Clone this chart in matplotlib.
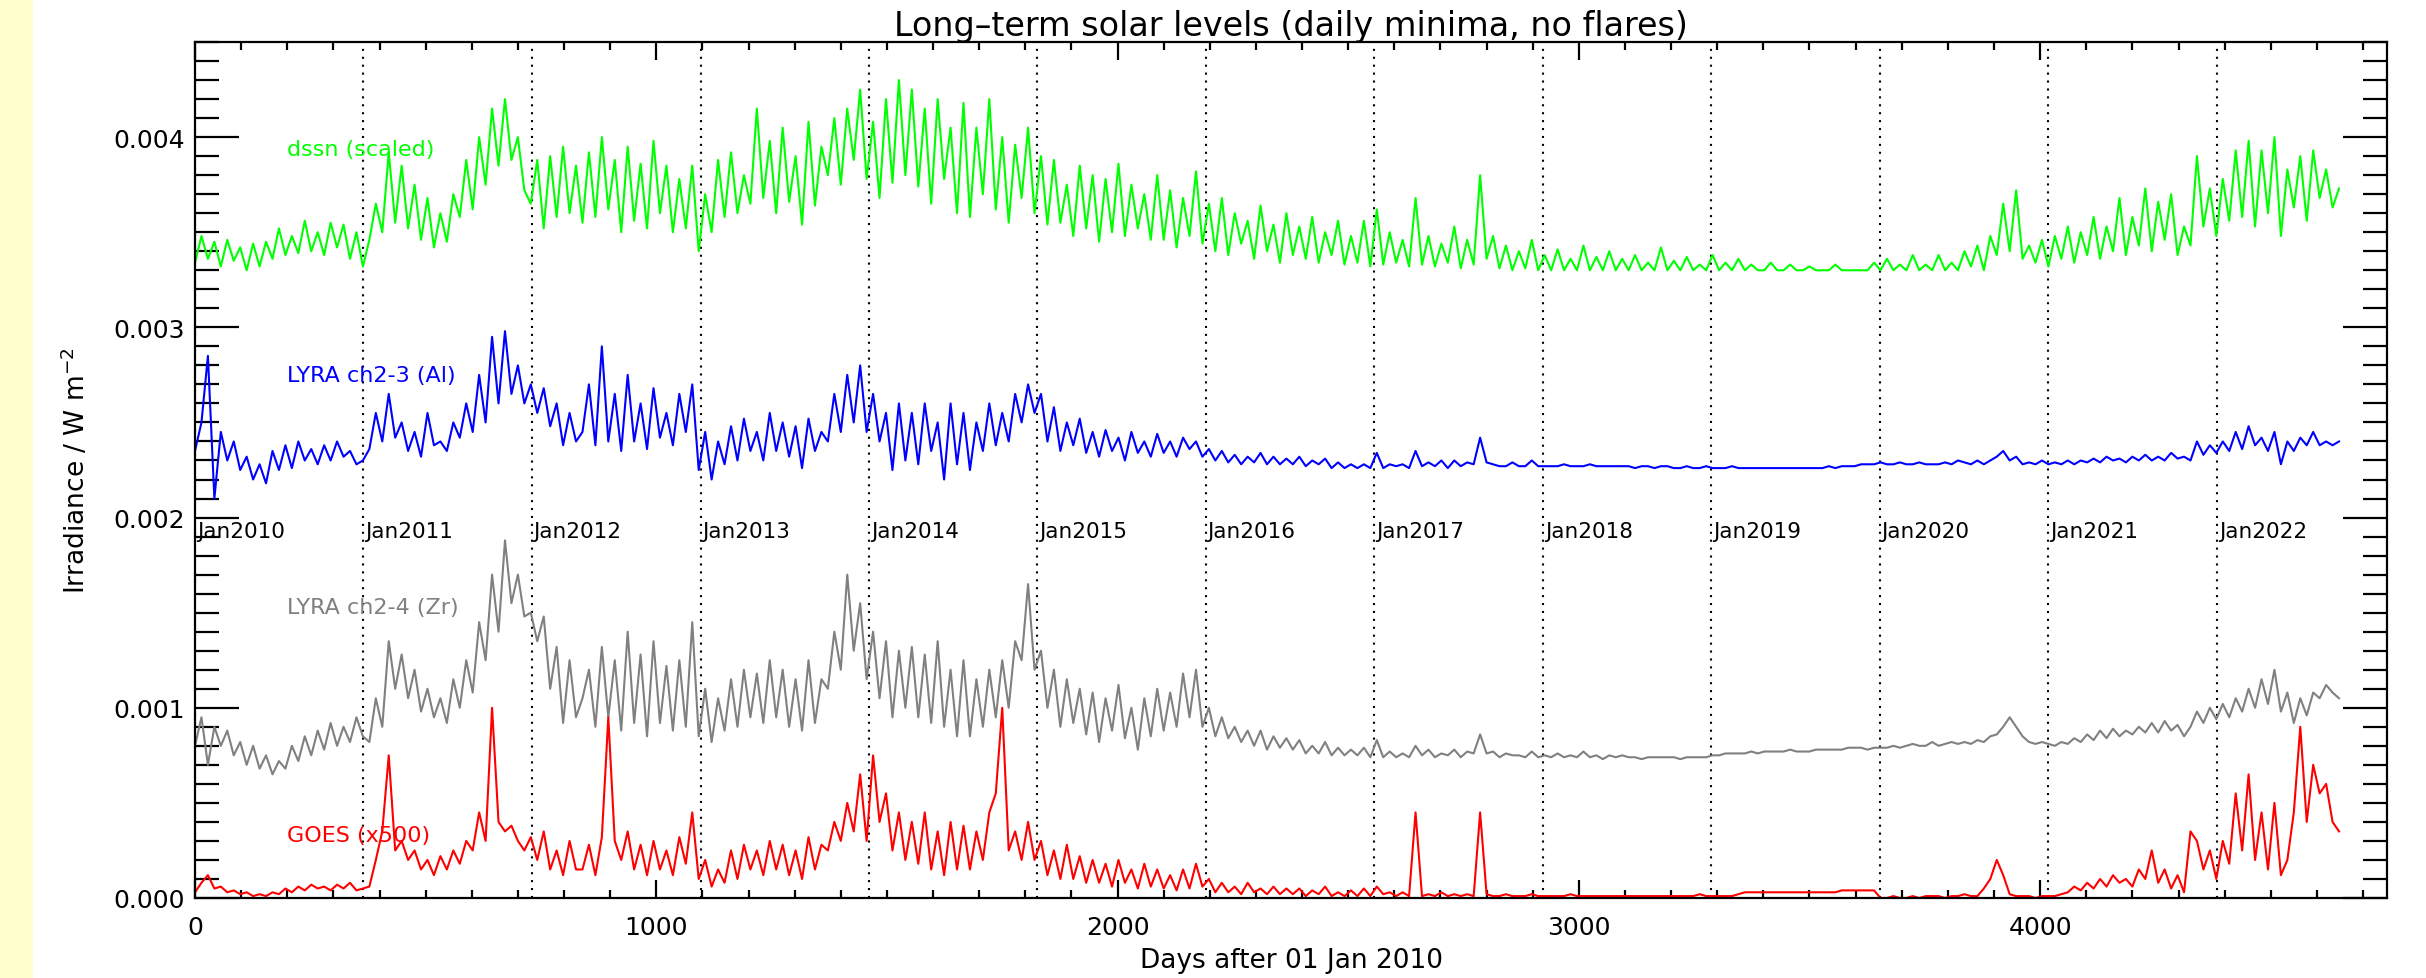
import numpy as np
import matplotlib.pyplot as plt
from matplotlib.ticker import MultipleLocator, FormatStrFormatter
from matplotlib.patches import Rectangle

plt.rcParams['font.family'] = 'DejaVu Sans'
plt.rcParams['axes.linewidth'] = 1.6

# daily-minimum levels, one value every 14 days, in units of 1e-4 W m^-2
step = 14

dssn = [
    33.4, 34.8, 33.6, 34.5, 33.2, 34.6, 33.5, 34.2, 33.0, 34.4,
    33.2, 34.5, 33.6, 35.2, 33.8, 34.8, 33.9, 35.6, 34.0, 35.0,
    33.8, 35.5, 34.2, 35.4, 33.6, 35.0, 33.2, 34.6, 36.5, 35.0,
    39.2, 35.5, 38.5, 35.2, 37.5, 34.6, 36.8, 34.2, 36.0, 34.5,
    37.0, 35.8, 38.8, 36.2, 40.0, 37.5, 41.5, 38.5, 42.0, 38.8,
    40.0, 37.2, 36.5, 38.8, 35.2, 39.0, 35.8, 39.5, 36.0, 38.5,
    35.5, 39.2, 35.8, 40.0, 36.2, 38.8, 35.0, 39.5, 35.6, 38.6,
    35.2, 39.8, 36.0, 38.5, 35.0, 37.8, 35.2, 38.5, 34.0, 37.0,
    35.0, 38.8, 35.8, 39.2, 36.0, 38.0, 36.5, 41.5, 36.8, 39.8,
    36.0, 40.5, 36.6, 39.0, 35.4, 40.8, 36.4, 39.5, 38.0, 41.0,
    37.5, 41.5, 38.8, 42.5, 37.8, 40.8, 36.8, 42.0, 37.6, 43.0,
    38.0, 42.5, 37.4, 41.5, 36.5, 42.0, 37.8, 40.5, 36.0, 41.8,
    35.8, 40.5, 37.0, 42.0, 36.2, 40.0, 35.5, 39.6, 36.8, 40.5,
    36.0, 39.0, 35.4, 38.8, 35.5, 37.5, 34.8, 38.5, 35.2, 38.0,
    34.5, 37.8, 35.0, 38.6, 34.8, 37.5, 35.2, 37.0, 34.6, 38.0,
    34.6, 37.2, 34.2, 36.8, 34.8, 38.2, 34.4, 36.5, 34.0, 36.8,
    33.8, 36.0, 34.4, 35.6, 33.6, 36.4, 34.0, 35.4, 33.4, 36.0,
    33.8, 35.3, 33.6, 35.8, 33.4, 35.0, 33.8, 35.6, 33.3, 34.8,
    33.4, 35.6, 33.2, 36.2, 33.3, 35.0, 33.4, 34.6, 33.2, 36.8,
    33.3, 34.8, 33.2, 34.4, 33.4, 35.3, 33.1, 34.6, 33.3, 38.0,
    33.6, 34.8, 33.1, 34.3, 33.0, 34.0, 33.1, 34.6, 33.0, 33.8,
    33.0, 34.1, 33.0, 33.6, 33.0, 34.3, 33.0, 33.7, 33.0, 34.0,
    33.0, 33.6, 33.0, 33.8, 33.0, 33.4, 33.0, 34.2, 33.0, 33.5,
    33.0, 33.7, 33.0, 33.3, 33.0, 33.8, 33.0, 33.4, 33.0, 33.6,
    33.0, 33.3, 33.0, 33.0, 33.4, 33.0, 33.0, 33.3, 33.0, 33.0,
    33.2, 33.0, 33.0, 33.0, 33.3, 33.0, 33.0, 33.0, 33.0, 33.0,
    33.4, 33.0, 33.6, 33.0, 33.3, 33.0, 33.8, 33.0, 33.3, 33.0,
    33.8, 33.0, 33.4, 33.0, 34.0, 33.2, 34.3, 33.0, 34.8, 33.8,
    36.5, 34.0, 37.2, 33.6, 34.3, 33.4, 34.6, 33.2, 34.8, 33.6,
    35.3, 33.4, 35.0, 33.8, 35.8, 33.6, 35.3, 34.0, 36.8, 33.8,
    35.8, 34.3, 37.3, 34.0, 36.6, 34.6, 37.0, 33.8, 35.3, 34.3,
    39.0, 35.3, 37.3, 34.8, 37.8, 35.6, 39.3, 35.8, 39.8, 35.3,
    39.3, 36.0, 40.0, 34.8, 38.3, 36.3, 39.0, 35.6, 39.3, 36.8,
    38.3, 36.3, 37.3,
]

lyra_al = [
    23.5, 25.0, 28.5, 21.0, 24.5, 23.0, 24.0, 22.5, 23.2, 22.0,
    22.8, 21.8, 23.5, 22.5, 23.8, 22.6, 24.0, 23.0, 23.6, 22.8,
    23.8, 23.0, 24.0, 23.2, 23.5, 22.8, 23.0, 23.6, 25.5, 24.0,
    26.5, 24.2, 25.0, 23.5, 24.5, 23.2, 25.5, 23.8, 24.0, 23.5,
    25.0, 24.2, 26.0, 24.5, 27.5, 25.0, 29.5, 26.0, 29.8, 26.5,
    28.0, 26.0, 27.0, 25.5, 26.8, 24.8, 26.0, 23.8, 25.5, 24.0,
    24.5, 27.0, 23.8, 29.0, 24.0, 26.5, 23.5, 27.5, 24.0, 26.0,
    23.6, 26.8, 24.2, 25.5, 23.8, 26.5, 24.5, 27.0, 22.5, 24.5,
    22.0, 24.0, 22.8, 24.8, 23.0, 25.2, 23.5, 24.5, 23.0, 25.5,
    23.5, 25.0, 23.2, 24.8, 22.6, 25.2, 23.5, 24.5, 24.0, 26.5,
    24.5, 27.5, 25.0, 28.0, 24.5, 26.5, 24.0, 25.5, 22.5, 26.0,
    23.0, 25.5, 22.8, 26.0, 23.5, 25.0, 22.0, 26.0, 22.8, 25.5,
    22.5, 25.0, 23.5, 26.0, 23.8, 25.5, 24.0, 26.5, 25.0, 27.0,
    25.5, 26.5, 24.0, 25.8, 23.5, 25.0, 23.8, 25.2, 23.4, 24.5,
    23.2, 24.6, 23.5, 24.2, 23.0, 24.5, 23.4, 24.0, 23.2, 24.4,
    23.4, 24.0, 23.2, 24.2, 23.6, 24.0, 23.2, 23.6, 23.0, 23.5,
    22.9, 23.3, 22.8, 23.2, 22.9, 23.4, 22.8, 23.2, 22.8, 23.1,
    22.8, 23.2, 22.7, 23.0, 22.8, 23.1, 22.6, 22.9, 22.6, 22.8,
    22.6, 22.8, 22.6, 23.4, 22.6, 22.8, 22.7, 22.8, 22.6, 23.5,
    22.7, 22.9, 22.7, 23.0, 22.6, 23.0, 22.7, 22.9, 22.8, 24.2,
    22.9, 22.8, 22.7, 22.7, 22.9, 22.7, 22.7, 23.0, 22.7, 22.7,
    22.7, 22.7, 22.8, 22.7, 22.7, 22.7, 22.8, 22.7, 22.7, 22.7,
    22.7, 22.7, 22.7, 22.6, 22.7, 22.7, 22.6, 22.7, 22.7, 22.6,
    22.6, 22.7, 22.6, 22.6, 22.7, 22.6, 22.6, 22.6, 22.7, 22.6,
    22.6, 22.6, 22.6, 22.6, 22.6, 22.6, 22.6, 22.6, 22.6, 22.6,
    22.6, 22.6, 22.6, 22.7, 22.6, 22.7, 22.7, 22.7, 22.8, 22.8,
    22.8, 22.9, 22.8, 22.8, 22.9, 22.8, 22.8, 22.9, 22.8, 22.8,
    22.8, 22.9, 22.8, 23.0, 22.9, 22.8, 23.0, 22.8, 23.0, 23.2,
    23.5, 23.0, 23.2, 22.8, 22.9, 22.8, 23.0, 22.8, 22.9, 22.8,
    23.0, 22.8, 23.0, 22.9, 23.1, 22.9, 23.2, 23.0, 23.1, 22.9,
    23.2, 23.0, 23.3, 23.0, 23.2, 23.0, 23.4, 23.1, 23.2, 23.0,
    24.0, 23.3, 23.8, 23.4, 24.0, 23.5, 24.5, 23.6, 24.8, 23.8,
    24.2, 23.5, 24.5, 22.8, 24.0, 23.5, 24.2, 23.8, 24.5, 23.8,
    24.0, 23.8, 24.0,
]

lyra_zr = [
    8.0, 9.5, 7.0, 9.0, 8.0, 8.8, 7.5, 8.2, 7.0, 8.0,
    6.8, 7.5, 6.5, 7.2, 6.8, 8.0, 7.2, 8.5, 7.5, 8.8,
    7.8, 9.2, 8.0, 9.0, 8.2, 9.5, 8.5, 8.2, 10.5, 9.0,
    13.5, 11.0, 12.8, 10.5, 12.0, 9.8, 11.0, 9.5, 10.5, 9.2,
    11.5, 10.0, 12.5, 10.8, 14.5, 12.5, 17.0, 14.0, 18.8, 15.5,
    17.0, 14.8, 15.0, 13.5, 14.8, 11.0, 13.2, 9.2, 12.5, 9.5,
    10.5, 12.0, 9.0, 13.2, 9.5, 12.5, 8.8, 14.0, 9.2, 12.8,
    8.5, 13.5, 9.2, 12.2, 8.8, 12.5, 9.0, 14.5, 8.5, 11.0,
    8.2, 10.5, 8.8, 11.5, 9.0, 12.0, 9.5, 11.8, 9.2, 12.5,
    9.5, 12.0, 9.0, 11.5, 8.8, 12.5, 9.2, 11.5, 11.0, 14.0,
    12.0, 17.0, 13.0, 15.5, 11.5, 14.0, 10.5, 13.5, 9.5, 13.0,
    10.0, 13.2, 9.5, 12.8, 9.2, 13.5, 9.0, 12.0, 8.5, 12.5,
    8.5, 11.5, 9.0, 12.0, 9.5, 12.5, 10.0, 13.5, 12.5, 16.5,
    12.0, 13.0, 10.0, 12.0, 9.0, 11.5, 9.2, 11.0, 8.6, 10.8,
    8.2, 10.5, 8.8, 11.2, 8.4, 10.0, 7.8, 10.5, 8.5, 11.0,
    8.8, 10.8, 9.0, 11.8, 9.5, 12.0, 9.0, 10.0, 8.5, 9.5,
    8.4, 9.0, 8.2, 8.8, 8.0, 8.8, 7.8, 8.5, 7.9, 8.4,
    7.8, 8.3, 7.6, 8.0, 7.6, 8.2, 7.5, 7.9, 7.5, 7.8,
    7.5, 7.9, 7.4, 8.3, 7.4, 7.7, 7.4, 7.6, 7.4, 8.0,
    7.5, 7.8, 7.4, 7.6, 7.5, 7.8, 7.4, 7.7, 7.6, 8.6,
    7.6, 7.7, 7.4, 7.6, 7.5, 7.5, 7.4, 7.7, 7.4, 7.5,
    7.4, 7.6, 7.4, 7.5, 7.4, 7.7, 7.4, 7.5, 7.3, 7.5,
    7.4, 7.5, 7.4, 7.4, 7.3, 7.4, 7.4, 7.4, 7.4, 7.4,
    7.3, 7.4, 7.4, 7.4, 7.4, 7.5, 7.5, 7.6, 7.6, 7.6,
    7.6, 7.7, 7.6, 7.7, 7.7, 7.7, 7.7, 7.8, 7.7, 7.7,
    7.7, 7.8, 7.8, 7.8, 7.8, 7.8, 7.9, 7.9, 7.9, 7.8,
    7.9, 7.9, 7.9, 8.0, 7.9, 8.0, 8.1, 8.0, 8.0, 8.2,
    8.0, 8.1, 8.2, 8.1, 8.2, 8.1, 8.3, 8.2, 8.5, 8.6,
    9.0, 9.5, 9.0, 8.5, 8.2, 8.1, 8.2, 8.1, 8.0, 8.2,
    8.1, 8.4, 8.2, 8.6, 8.3, 8.8, 8.4, 8.9, 8.5, 8.8,
    8.6, 9.0, 8.7, 9.2, 8.7, 9.3, 8.8, 9.1, 8.5, 9.0,
    9.8, 9.2, 10.0, 9.4, 10.2, 9.5, 10.5, 9.8, 11.0, 10.0,
    11.5, 10.2, 12.0, 9.8, 10.8, 9.2, 10.5, 9.6, 10.8, 10.5,
    11.2, 10.8, 10.5,
]

goes = [
    0.3, 0.8, 1.2, 0.5, 0.6, 0.3, 0.4, 0.2, 0.3, 0.1,
    0.2, 0.1, 0.3, 0.2, 0.5, 0.3, 0.6, 0.4, 0.7, 0.5,
    0.6, 0.4, 0.7, 0.5, 0.8, 0.4, 0.5, 0.6, 2.0, 3.5,
    7.5, 2.5, 3.0, 2.0, 2.5, 1.5, 2.0, 1.2, 2.2, 1.5,
    2.5, 1.8, 3.0, 2.5, 4.5, 3.0, 10.0, 4.0, 3.5, 3.8,
    3.0, 2.5, 3.2, 2.0, 3.5, 1.5, 2.5, 1.2, 3.0, 1.5,
    1.5, 2.8, 1.2, 3.2, 9.5, 3.0, 2.0, 3.5, 1.5, 2.8,
    1.2, 3.0, 1.5, 2.5, 1.2, 3.2, 1.8, 4.5, 1.0, 2.0,
    0.6, 1.5, 0.8, 2.5, 1.0, 2.8, 1.5, 2.5, 1.2, 3.0,
    1.5, 2.8, 1.2, 2.5, 1.0, 3.2, 1.5, 2.8, 2.5, 4.0,
    3.0, 5.0, 3.5, 6.5, 3.0, 7.5, 4.0, 5.5, 2.5, 4.5,
    2.0, 4.0, 1.8, 4.5, 1.5, 3.5, 1.2, 4.0, 1.5, 3.8,
    1.5, 3.5, 2.0, 4.5, 5.5, 10.0, 2.5, 3.5, 2.0, 4.0,
    2.0, 3.0, 1.2, 2.5, 1.0, 2.8, 1.0, 2.2, 0.8, 2.0,
    0.8, 1.8, 0.6, 2.0, 0.8, 1.5, 0.5, 1.8, 0.6, 1.5,
    0.5, 1.2, 0.4, 1.5, 0.5, 1.8, 0.6, 1.0, 0.3, 0.8,
    0.3, 0.6, 0.2, 0.8, 0.3, 0.5, 0.2, 0.6, 0.2, 0.5,
    0.2, 0.5, 0.1, 0.4, 0.2, 0.6, 0.1, 0.3, 0.1, 0.4,
    0.1, 0.5, 0.1, 0.6, 0.2, 0.3, 0.1, 0.3, 0.1, 4.5,
    0.1, 0.2, 0.1, 0.3, 0.1, 0.2, 0.1, 0.2, 0.1, 4.5,
    0.2, 0.1, 0.1, 0.2, 0.1, 0.1, 0.1, 0.2, 0.1, 0.1,
    0.1, 0.1, 0.1, 0.2, 0.1, 0.1, 0.1, 0.1, 0.1, 0.1,
    0.1, 0.1, 0.1, 0.1, 0.1, 0.1, 0.1, 0.1, 0.1, 0.1,
    0.1, 0.1, 0.1, 0.2, 0.1, 0.1, 0.1, 0.1, 0.1, 0.2,
    0.3, 0.3, 0.3, 0.3, 0.3, 0.3, 0.3, 0.3, 0.3, 0.3,
    0.3, 0.3, 0.3, 0.3, 0.3, 0.4, 0.4, 0.4, 0.4, 0.4,
    0.4, 0.0, 0.0, 0.1, 0.0, 0.0, 0.1, 0.0, 0.1, 0.1,
    0.1, 0.0, 0.1, 0.1, 0.2, 0.1, 0.1, 0.5, 1.0, 2.0,
    1.2, 0.2, 0.1, 0.1, 0.1, 0.0, 0.1, 0.1, 0.1, 0.2,
    0.3, 0.6, 0.4, 0.8, 0.5, 1.0, 0.6, 1.2, 0.8, 1.0,
    0.6, 1.5, 1.0, 2.5, 0.8, 1.5, 0.5, 1.2, 0.3, 3.5,
    3.0, 1.5, 2.5, 1.0, 3.0, 1.8, 5.5, 2.5, 6.5, 2.0,
    4.5, 1.5, 5.0, 1.2, 2.0, 4.5, 9.0, 4.0, 7.0, 5.5,
    6.0, 4.0, 3.5,
]

year_start = [0, 365, 730, 1096, 1461, 1826, 2191, 2557, 2922, 3287, 3652, 4018, 4383]
year_label = ['Jan2010', 'Jan2011', 'Jan2012', 'Jan2013', 'Jan2014', 'Jan2015', 'Jan2016',
              'Jan2017', 'Jan2018', 'Jan2019', 'Jan2020', 'Jan2021', 'Jan2022']

series = [
    (dssn,    '#00ff00', 'dssn (scaled)',   0.00394),
    (lyra_al, '#0000ff', 'LYRA ch2-3 (Al)', 0.00275),
    (lyra_zr, '#808080', 'LYRA ch2-4 (Zr)', 0.00153),
    (goes,    '#ff0000', 'GOES (x500)',     0.00033),
]

fig = plt.figure(figsize=(24.26, 9.79), dpi=100)
fig.patches.append(Rectangle((0, 0), 33 / 2426, 1, transform=fig.transFigure,
                             facecolor='#ffffcc', edgecolor='none', zorder=-10))
ax = fig.add_axes([195 / 2426, 80 / 979, 2192 / 2426, 856 / 979])

for vals, color, label, ylab in series:
    y = np.array(vals) * 1e-4
    day = np.arange(len(y)) * step
    ax.plot(day, y, color=color, lw=1.5)
    ax.text(200, ylab, label, color=color, fontsize=16, ha='left', va='center')

for d, lab in zip(year_start, year_label):
    ax.axvline(d, color='k', lw=1.5, ls=(0, (1, 2.8)), zorder=0)
    ax.text(d + 4, 0.00193, lab, fontsize=15.5, ha='left', va='center')

ax.set_xlim(0, 4752)
ax.set_ylim(0, 0.0045)
ax.xaxis.set_major_locator(MultipleLocator(1000))
ax.xaxis.set_minor_locator(MultipleLocator(100))
ax.yaxis.set_major_locator(MultipleLocator(0.001))
ax.yaxis.set_minor_locator(MultipleLocator(0.0001))
ax.yaxis.set_major_formatter(FormatStrFormatter('%.3f'))

ax.tick_params(which='both', direction='in', top=True, right=True, width=1.6, labelsize=18)
ax.tick_params(axis='y', which='major', length=32, pad=7)
ax.tick_params(axis='y', which='minor', length=17)
ax.tick_params(axis='x', which='major', length=13, pad=12)
ax.tick_params(axis='x', which='minor', length=6)

ax.set_xlabel('Days after 01 Jan 2010', fontsize=19, labelpad=6)
ax.set_ylabel(r'Irradiance / W m$^{-2}$', fontsize=19, labelpad=16)
ax.set_title('Long\u2013term solar levels (daily minima, no flares)', fontsize=24, pad=4)

fig.savefig('out.png', dpi=100)
